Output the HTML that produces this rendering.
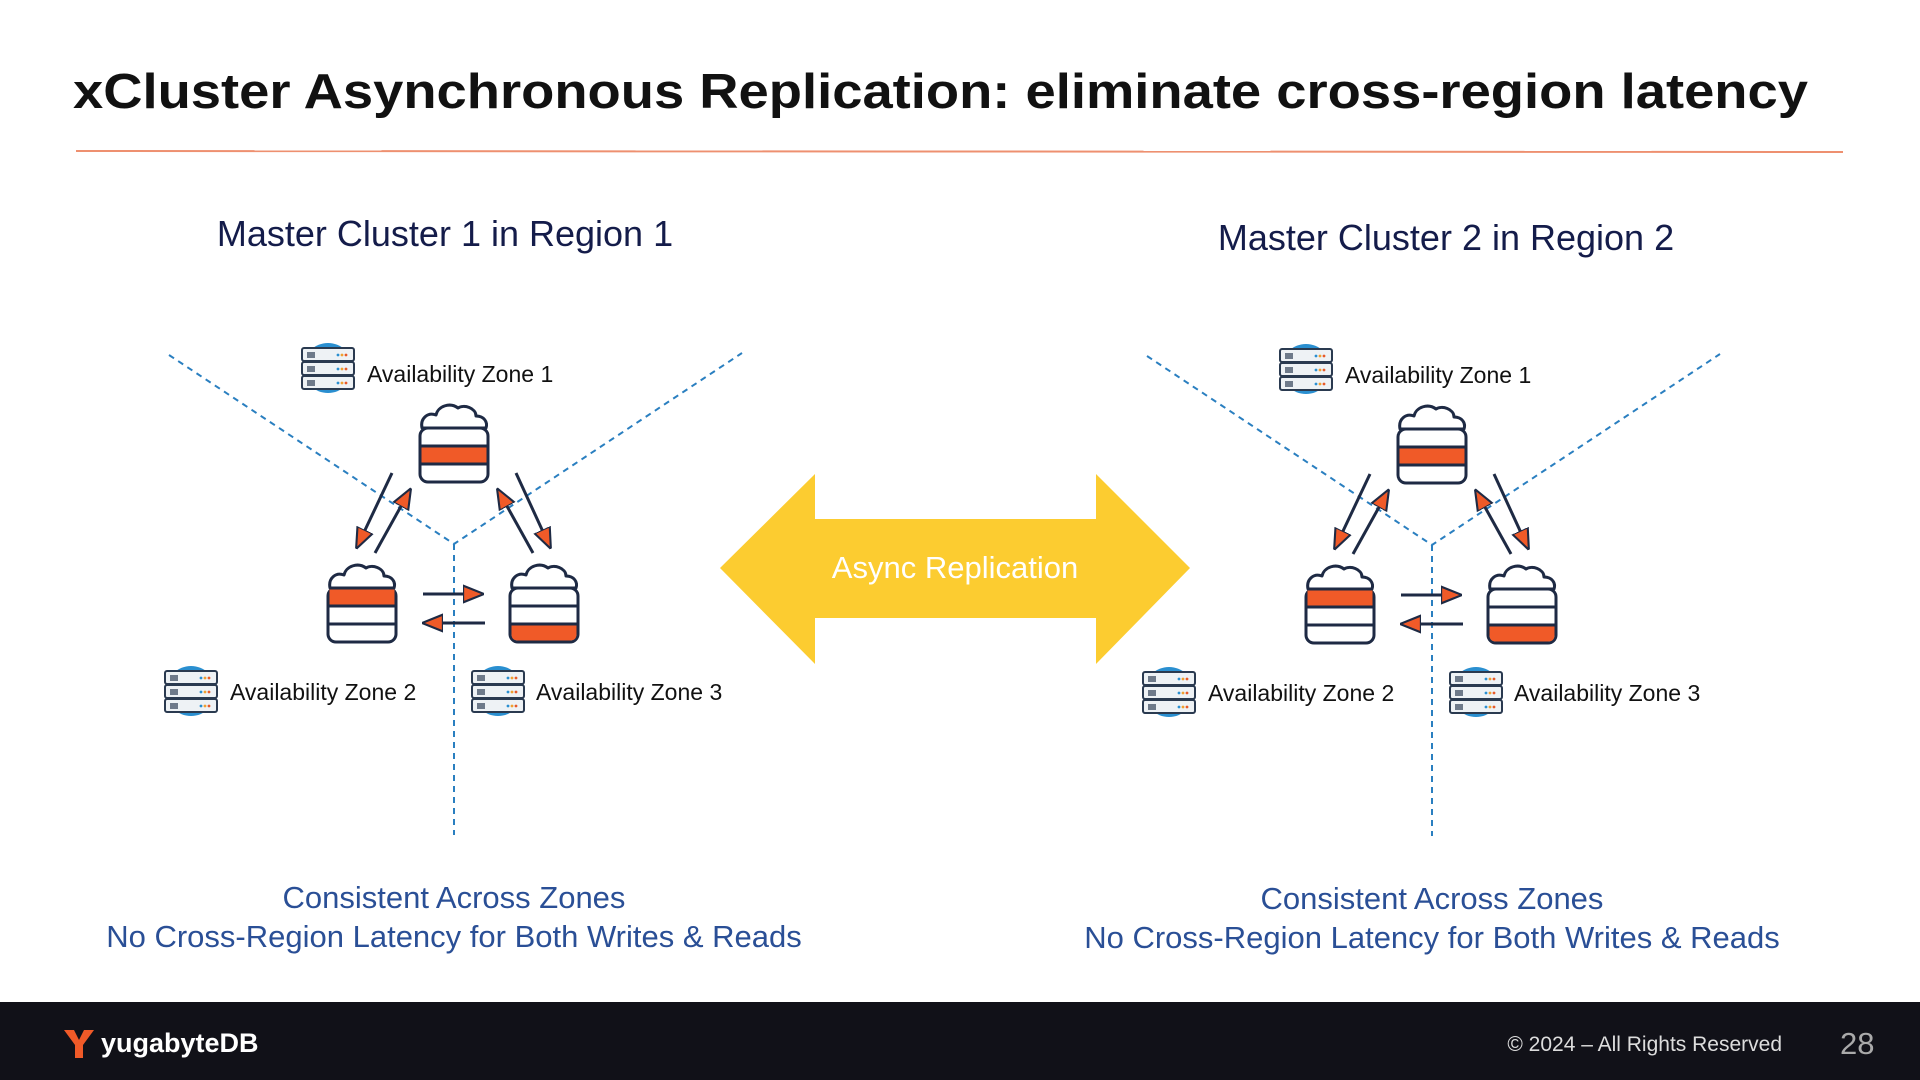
<!DOCTYPE html>
<html><head><meta charset="utf-8"><style>
html,body{margin:0;padding:0;background:#fff;width:1920px;height:1080px;overflow:hidden}
svg{display:block}
text{font-family:"Liberation Sans",sans-serif}
</style></head><body>
<svg width="1920" height="1080" viewBox="0 0 1920 1080" xmlns="http://www.w3.org/2000/svg">
<defs>
  <g id="cloud">
    <path d="M4 24 C2 14 10 8 18 11 C20 2 32 -2 40 4 C46 0 58 4 58 12 C66 12 70 18 68 24 Z" fill="#fff" stroke="#1e2a44" stroke-width="3" stroke-linejoin="round"/>
  </g>
  <g id="srv">
    <circle cx="28" cy="26" r="25" fill="#2a8fd0"/>
    <g fill="#eef2f5" stroke="#2a3a50" stroke-width="2">
      <rect x="2" y="6" width="52" height="13" rx="2"/>
      <rect x="2" y="20" width="52" height="13" rx="2"/>
      <rect x="2" y="34" width="52" height="13" rx="2"/>
    </g>
    <g stroke="#2a3a50" stroke-width="1.3">
      <path d="M8 10v6M10 10v6M12 10v6M14 10v6M8 24v6M10 24v6M12 24v6M14 24v6M8 38v6M10 38v6M12 38v6M14 38v6"/>
    </g>
    <g>
      <circle cx="38" cy="13" r="1.4" fill="#2a8fd0"/><circle cx="42" cy="13" r="1.4" fill="#f0a030"/><circle cx="46" cy="13" r="1.4" fill="#e85a2a"/>
      <circle cx="38" cy="27" r="1.4" fill="#2a8fd0"/><circle cx="42" cy="27" r="1.4" fill="#f0a030"/><circle cx="46" cy="27" r="1.4" fill="#e85a2a"/>
      <circle cx="38" cy="41" r="1.4" fill="#2a8fd0"/><circle cx="42" cy="41" r="1.4" fill="#f0a030"/><circle cx="46" cy="41" r="1.4" fill="#e85a2a"/>
    </g>
  </g>
  <marker id="ah" viewBox="0 0 10 10" refX="9" refY="5" markerWidth="7" markerHeight="7" orient="auto">
    <path d="M0 1 L10 5 L0 9 Z" fill="#f05a28" stroke="#1e2a44" stroke-width="1"/>
  </marker>
</defs>

<text x="73" y="108" font-size="49" font-weight="bold" fill="#111" textLength="1735" lengthAdjust="spacingAndGlyphs">xCluster Asynchronous Replication: eliminate cross-region latency</text>
<line x1="76" y1="151" x2="1843" y2="152" stroke="#ee9070" stroke-width="2"/>

<text x="445" y="246" font-size="36" fill="#141c4a" text-anchor="middle">Master Cluster 1 in Region 1</text>
<text x="1446" y="250" font-size="36" fill="#141c4a" text-anchor="middle">Master Cluster 2 in Region 2</text>

<polygon points="720,568 815,474 815,519 1096,519 1096,474 1190,568 1096,664 1096,618 815,618 815,664" fill="#fccc30"/>
<text x="955" y="578" font-size="31" fill="#fff" text-anchor="middle">Async Replication</text>

<g id="cluster">
  <g stroke="#2a7fc0" stroke-width="2" stroke-dasharray="6,5" fill="none">
    <path d="M169 355 L454 544 L742 353"/>
    <path d="M454 544 L454 835"/>
  </g>
  <g transform="translate(418,404)">
    <rect x="2" y="24" width="68" height="54" rx="8" fill="#fff" stroke="#1e2a44" stroke-width="3"/>
    <rect x="3.5" y="42" width="65" height="18" fill="#f05a28"/>
    <path d="M2 42 H70 M2 60 H70" stroke="#1e2a44" stroke-width="3"/>
    <use href="#cloud"/>
  </g>
  <g transform="translate(326,564)">
    <rect x="2" y="24" width="68" height="54" rx="8" fill="#fff" stroke="#1e2a44" stroke-width="3"/>
    <rect x="3.5" y="25.5" width="65" height="16.5" fill="#f05a28"/>
    <path d="M2 42 H70 M2 60 H70" stroke="#1e2a44" stroke-width="3"/>
    <use href="#cloud"/>
  </g>
  <g transform="translate(508,564)">
    <rect x="2" y="24" width="68" height="54" rx="8" fill="#fff" stroke="#1e2a44" stroke-width="3"/>
    <path d="M3.5 60 H68.5 V70 Q68.5 76.5 62 76.5 H10 Q3.5 76.5 3.5 70 Z" fill="#f05a28"/>
    <path d="M2 42 H70 M2 60 H70" stroke="#1e2a44" stroke-width="3"/>
    <use href="#cloud"/>
  </g>
  <g stroke="#1e2a44" stroke-width="3" marker-end="url(#ah)">
    <line x1="392" y1="473" x2="357" y2="547"/>
    <line x1="375" y1="553" x2="410" y2="490"/>
    <line x1="516" y1="473" x2="550" y2="547"/>
    <line x1="533" y1="553" x2="498" y2="490"/>
    <line x1="423" y1="594" x2="482" y2="594"/>
    <line x1="485" y1="623" x2="424" y2="623"/>
  </g>
  <use href="#srv" x="300" y="342"/>
  <use href="#srv" x="163" y="665"/>
  <use href="#srv" x="470" y="665"/>
  <g font-size="23" fill="#111">
    <text x="367" y="382">Availability Zone 1</text>
    <text x="230" y="700">Availability Zone 2</text>
    <text x="536" y="700">Availability Zone 3</text>
  </g>
  <g font-size="31" fill="#2a4f96" text-anchor="middle">
    <text x="454" y="908">Consistent Across Zones</text>
    <text x="454" y="947">No Cross-Region Latency for Both Writes &amp; Reads</text>
  </g>
</g>
<use href="#cluster" x="978" y="1"/>

<rect x="0" y="1002" width="1920" height="78" fill="#111118"/>
<path d="M64 1030 L74 1030 L79 1040 L84 1030 L94 1030 L83 1045 L83 1058 L75 1058 L75 1045 Z" fill="#f05a28"/>
<text x="101" y="1052" font-size="27" font-weight="bold" fill="#fff">yugabyteDB</text>
<text x="1782" y="1051" font-size="21" fill="#ddd" text-anchor="end">© 2024 – All Rights Reserved</text>
<text x="1840" y="1054" font-size="31" fill="#aaa">28</text>
</svg>
</body></html>
